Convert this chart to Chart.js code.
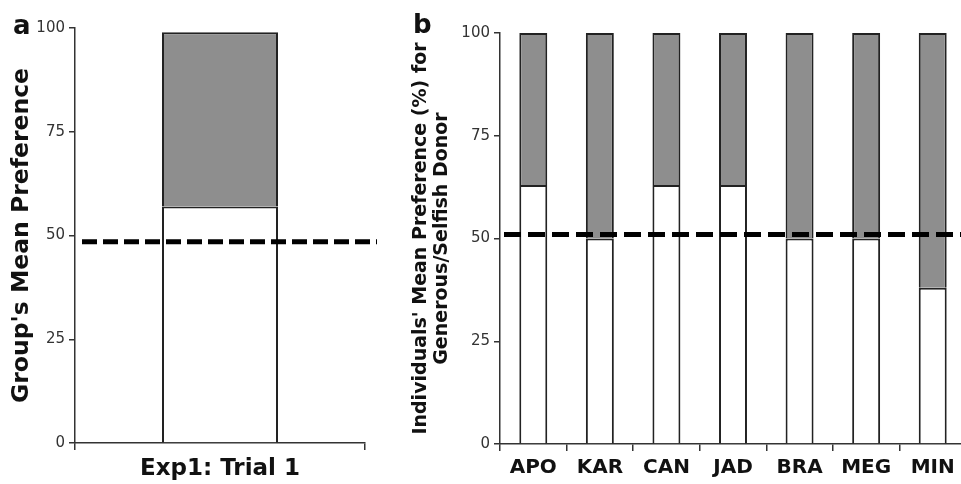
<!DOCTYPE html>
<html>
<head>
<meta charset="utf-8">
<script src="https://cdn.jsdelivr.net/npm/chart.js@4"></script>
<style>
  html, body { margin: 0; padding: 0; background: #fff; overflow: hidden; width: 961px; height: 484px; }
  #chartA { position: absolute; left: 0; top: 0; }
  #chartB { position: absolute; left: 400px; top: 0; }
</style>
</head>
<body>
<canvas id="chartA" width="400" height="484"></canvas>
<canvas id="chartB" width="580" height="484"></canvas>
<script>
// panel a: group
const trialLabels = ['Exp1: Trial 1'];
const groupGenerous = [57];
const groupSelfish = [42];
const groupChance = 48.5;

// panel b: individuals
const monkeys = ['APO', 'KAR', 'CAN', 'JAD', 'BRA', 'MEG', 'MIN'];
const indivGenerous = [63, 50, 63, 63, 50, 50, 38];
const indivSelfish = [37, 50, 37, 37, 50, 50, 62];
const indivChance = 51;

const yTicks = [0, 25, 50, 75, 100];

const FONT = '"DejaVu Sans", Verdana, sans-serif';
const AXIS = '#333';
const GREY = '#8e8e8e';

// dashed chance line, drawn over the bars
const chanceLine = {
  id: 'chanceLine',
  afterDatasetsDraw(chart, args, opts) {
    const { ctx, chartArea, scales } = chart;
    const y = scales.y.getPixelForValue(opts.value);
    ctx.save();
    ctx.strokeStyle = '#000';
    ctx.lineWidth = 5;
    ctx.setLineDash(opts.dash);
    ctx.beginPath();
    ctx.moveTo(chartArea.left + opts.startPad, y);
    ctx.lineTo(chartArea.right + opts.endPad, y);
    ctx.stroke();
    ctx.restore();
  }
};

// panel letter (a / b)
const panelLetter = {
  id: 'panelLetter',
  afterDraw(chart, args, opts) {
    const ctx = chart.ctx;
    ctx.save();
    ctx.font = 'bold 26px ' + FONT;
    ctx.fillStyle = '#111';
    ctx.textBaseline = 'alphabetic';
    ctx.fillText(opts.text, opts.x, opts.y);
    ctx.restore();
  }
};

function makeChart(id, labels, generous, selfish, cfg) {
  const ctx = document.getElementById(id).getContext('2d');

  new Chart(ctx, {
    type: 'bar',
    data: {
      labels: labels,
      datasets: [{
        label: 'Generous',
        data: generous,
        backgroundColor: '#fff',
        borderColor: '#222',
        borderWidth: 2,
        borderSkipped: 'start',
        categoryPercentage: 1,
        barPercentage: cfg.barPct
      }, {
        label: 'Selfish',
        data: selfish,
        backgroundColor: GREY,
        borderColor: '#222',
        borderWidth: 2,
        borderSkipped: 'start',
        categoryPercentage: 1,
        barPercentage: cfg.barPct
      }]
    },
    options: {
      responsive: false,
      animation: false,
      layout: { padding: cfg.padding },
      plugins: {
        legend: { display: false },
        tooltip: { enabled: false },
        chanceLine: cfg.line,
        panelLetter: cfg.letter
      },
      scales: {
        x: {
          stacked: true,
          grid: { drawOnChartArea: false, drawTicks: true, tickLength: 7, color: AXIS, lineWidth: 1.5 },
          border: { display: true, color: AXIS, width: 1.5 },
          ticks: { color: '#111', padding: cfg.xPad, font: { family: FONT, size: cfg.xFont, weight: 'bold' } },
          afterFit: s => { s.height = cfg.xHeight; }
        },
        y: {
          stacked: true,
          min: 0,
          max: 100,
          afterBuildTicks: s => { s.ticks = yTicks.map(v => ({ value: v })); },
          grid: { drawOnChartArea: false, drawTicks: true, tickLength: 6, color: AXIS, lineWidth: 1.5 },
          border: { display: true, color: AXIS, width: 1.5 },
          ticks: { color: '#333', padding: 4, font: { family: FONT, size: 15 } },
          title: {
            display: true,
            text: cfg.yTitle,
            color: '#111',
            padding: { top: cfg.titlePad, bottom: 0 },
            font: { family: FONT, size: cfg.titleFont, weight: 'bold', lineHeight: 1.1 }
          },
          afterFit: s => { s.width = cfg.yWidth; }
        }
      }
    },
    plugins: [chanceLine, panelLetter]
  });
}

makeChart('chartA', trialLabels, groupGenerous, groupSelfish, {
  barPct: 0.4,
  padding: { left: 0, right: 35, top: 28, bottom: 0 },
  xHeight: 41, xPad: 5, xFont: 23,
  yWidth: 75, titlePad: 9, titleFont: 23.5,
  yTitle: "Group's Mean Preference",
  line: { value: groupChance, dash: [15, 6], startPad: 7, endPad: 12 },
  letter: { text: 'a', x: 13, y: 34 }
});

makeChart('chartB', monkeys, indivGenerous, indivSelfish, {
  barPct: 0.42,
  padding: { left: 0, right: 14, top: 33, bottom: 0 },
  xHeight: 40, xPad: 5, xFont: 20,
  yWidth: 100, titlePad: 11, titleFont: 19,
  yTitle: ["Individuals' Mean Preference (%) for", 'Generous/Selfish Donor'],
  line: { value: indivChance, dash: [17, 7], startPad: 4, endPad: 0 },
  letter: { text: 'b', x: 13, y: 33 }
});
</script>
</body>
</html>
